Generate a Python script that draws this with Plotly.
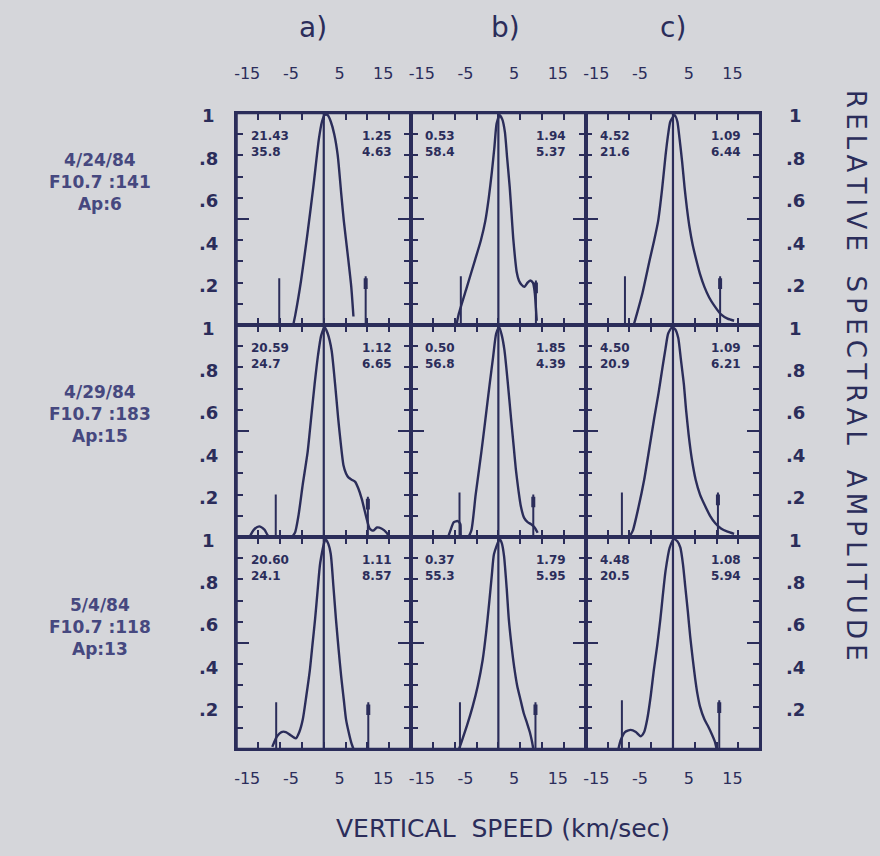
import plotly.graph_objects as go

# ---------------- data ----------------
x_tick_vals = [-15, -5, 5, 15]
x_tick_text = ['-15\u2007', '-5\u2007', '5', '15']
y_tick_vals = [0.2, 0.4, 0.6, 0.8, 1.0]
y_tick_text = ['.2', '.4', '.6', '.8', '1']
col_labels = ['a)', 'b)', 'c)']
row_labels = [
    ['4/24/84', 'F10.7 :141', 'Ap:6'],
    ['4/29/84', 'F10.7 :183', 'Ap:15'],
    ['5/4/84', 'F10.7 :118', 'Ap:13'],
]
x_title = 'VERTICAL  SPEED (km/sec)'
y_title = 'RELATIVE SPECTRAL AMPLITUDE'

# spectra (relative amplitude vs vertical speed km/s), row-major: r1a..r3c
r1a_x = [-7.0, -6.5, -5.2, -3.8, -2.4, -1.1, -0.4, 0.2, 0.9, 1.6, 2.4, 3.2, 4.0, 4.6, 5.5, 6.3, 6.8]
r1a_y = [0.0, 0.05, 0.21, 0.42, 0.65, 0.88, 0.96, 0.99, 0.99, 0.96, 0.90, 0.80, 0.62, 0.49, 0.33, 0.18, 0.04]
r1b_x = [-9.6, -9.1, -7.2, -5.3, -4.0, -3.0, -2.2, -1.5, -0.9, -0.4, 0.3, 0.9, 1.5, 2.0, 2.6, 3.0, 3.4, 3.8, 4.2, 4.7, 5.3, 6.0, 6.7, 7.3, 7.9, 8.3, 8.6, 8.8]
r1b_y = [0.0, 0.05, 0.18, 0.31, 0.40, 0.49, 0.60, 0.72, 0.84, 0.95, 0.99, 0.97, 0.91, 0.79, 0.65, 0.53, 0.41, 0.32, 0.25, 0.21, 0.19, 0.18, 0.20, 0.21, 0.20, 0.16, 0.08, 0.02]
r1c_x = [-9.0, -8.3, -7.0, -5.3, -4.3, -3.4, -2.5, -1.7, -1.1, -0.6, 0.4, 1.0, 1.5, 2.1, 2.65, 3.2, 3.8, 4.5, 5.3, 6.2, 7.2, 8.3, 9.5, 11.0, 12.5, 14.0]
r1c_y = [0.0, 0.05, 0.15, 0.31, 0.40, 0.49, 0.64, 0.80, 0.90, 0.96, 0.99, 0.96, 0.88, 0.77, 0.65, 0.55, 0.46, 0.38, 0.31, 0.24, 0.18, 0.13, 0.09, 0.05, 0.03, 0.02]
r2a_x = [-17.0, -16.0, -14.8, -13.6, -12.5, -7.5, -6.6, -5.8, -4.8, -3.7, -2.9, -2.1, -1.3, -0.6, 0.2, 0.9, 1.8, 2.6, 3.3, 3.9, 4.5, 5.1, 5.7, 6.4, 7.2, 7.9, 8.7, 9.3, 9.9, 10.5, 11.3, 12.2, 13.2, 14.4, 15.0]
r2a_y = [0.0, 0.035, 0.05, 0.035, 0.0, 0.0, 0.02, 0.10, 0.25, 0.40, 0.56, 0.72, 0.86, 0.95, 0.99, 0.96, 0.88, 0.72, 0.56, 0.44, 0.34, 0.30, 0.28, 0.27, 0.26, 0.23, 0.18, 0.13, 0.08, 0.04, 0.03, 0.045, 0.04, 0.02, 0.0]
r2b_x = [-11.5, -11.0, -10.2, -9.3, -8.7, -8.5, -7.0, -6.2, -5.2, -3.9, -3.0, -2.0, -1.2, -0.5, 0.2, 0.8, 1.4, 2.1, 2.9, 3.5, 4.0, 4.6, 5.15, 5.9, 6.7, 7.5, 8.3, 9.0]
r2b_y = [0.0, 0.03, 0.07, 0.075, 0.06, 0.0, 0.0, 0.03, 0.20, 0.40, 0.55, 0.72, 0.85, 0.96, 0.99, 0.95, 0.88, 0.74, 0.56, 0.43, 0.32, 0.22, 0.145, 0.09, 0.07, 0.06, 0.045, 0.02]
r2c_x = [-10.0, -9.2, -7.9, -6.6, -5.4, -4.3, -3.3, -2.4, -1.7, -1.1, -0.2, 0.5, 1.2, 1.8, 2.5, 3.0, 3.6, 4.3, 5.2, 6.2, 7.4, 8.5, 9.7, 11.0, 12.5, 14.0]
r2c_y = [0.0, 0.03, 0.14, 0.27, 0.42, 0.56, 0.68, 0.80, 0.89, 0.96, 0.99, 0.98, 0.94, 0.84, 0.72, 0.60, 0.48, 0.37, 0.27, 0.20, 0.145, 0.10, 0.065, 0.04, 0.025, 0.015]
r3a_x = [-11.8, -10.7, -9.7, -8.7, -7.6, -6.4, -5.6, -4.8, -4.0, -3.2, -2.6, -2.0, -1.4, -0.8, 0.4, 1.0, 1.6, 2.2, 2.8, 3.4, 4.0, 4.6, 5.1, 5.7, 6.3, 6.8]
r3a_y = [0.01, 0.06, 0.08, 0.08, 0.065, 0.05, 0.08, 0.14, 0.25, 0.37, 0.49, 0.61, 0.75, 0.88, 0.99, 0.97, 0.92, 0.77, 0.61, 0.47, 0.34, 0.23, 0.14, 0.08, 0.03, 0.0]
r3b_x = [-9.0, -8.5, -7.2, -5.9, -4.7, -3.6, -2.8, -2.1, -1.5, -1.0, 0.3, 0.8, 1.3, 1.9, 2.4, 3.0, 3.6, 4.3, 5.1, 5.8, 6.6, 7.2, 7.7, 8.0]
r3b_y = [0.0, 0.03, 0.11, 0.20, 0.30, 0.42, 0.55, 0.69, 0.82, 0.92, 0.99, 0.97, 0.91, 0.76, 0.61, 0.49, 0.39, 0.30, 0.23, 0.17, 0.12, 0.08, 0.035, 0.0]
r3c_x = [-12.5, -12.0, -11.0, -9.7, -8.5, -7.4, -6.6, -5.9, -5.1, -4.4, -3.6, -2.9, -2.3, -1.7, -0.75, 0.2, 1.0, 1.7, 2.3, 2.8, 3.4, 3.95, 4.5, 5.1, 5.6, 6.2, 7.2, 8.1, 8.9, 9.6, 10.0]
r3c_y = [0.0, 0.04, 0.08, 0.09, 0.08, 0.06, 0.08, 0.14, 0.25, 0.37, 0.49, 0.61, 0.73, 0.84, 0.95, 0.99, 0.98, 0.95, 0.87, 0.77, 0.65, 0.53, 0.43, 0.33, 0.26, 0.20, 0.14, 0.105, 0.07, 0.035, 0.0]

curves_x = [r1a_x, r1b_x, r1c_x, r2a_x, r2b_x, r2c_x, r3a_x, r3b_x, r3c_x]
curves_y = [r1a_y, r1b_y, r1c_y, r2a_y, r2b_y, r2c_y, r3a_y, r3b_y, r3c_y]

# vertical reference markers (left/right position, height)
marker_left_x = [-10.2, -8.6, -11.0, -11.0, -8.9, -11.7, -10.9, -8.8, -11.7]
marker_left_h = [0.22, 0.23, 0.23, 0.20, 0.21, 0.21, 0.22, 0.22, 0.23]
marker_right_x = [9.6, 8.6, 10.8, 10.1, 8.0, 10.3, 10.2, 8.5, 10.6]
marker_right_h = [0.23, 0.21, 0.23, 0.19, 0.20, 0.21, 0.22, 0.22, 0.23]
zero_line_x = [0, 0]
zero_line_y = [0, 1]

# numbers printed in each panel
text_left_1 = ['21.43', '0.53', '4.52', '20.59', '0.50', '4.50', '20.60', '0.37', '4.48']
text_left_2 = ['35.8', '58.4', '21.6', '24.7', '56.8', '20.9', '24.1', '55.3', '20.5']
text_right_1 = ['1.25', '1.94', '1.09', '1.12', '1.85', '1.09', '1.11', '1.79', '1.08']
text_right_2 = ['4.63', '5.37', '6.44', '6.65', '4.39', '6.21', '8.57', '5.95', '5.94']
text_rows_y = [0.89, 0.815]

# ---------------- style ----------------
BG = '#d5d6da'
INK = '#2b2d5a'
LABEL_INK = '#46487f'
FONT = 'DejaVu Sans'
W, H = 880, 856
left_px, panel_w = 235, 175
top_px, panel_h = 113, 212
AXW = 1.6


def ax_ids(n):
    s = '' if n == 1 else str(n)
    return 'x' + s, 'y' + s, 'xaxis' + s, 'yaxis' + s


def spaced(text, gap='\u2009', word_gap='\u00a0\u00a0\u00a0'):
    return word_gap.join(gap.join(w) for w in text.split())


fig = go.Figure()
layout = dict(
    width=W, height=H, margin=dict(l=0, r=0, t=0, b=0),
    paper_bgcolor=BG, plot_bgcolor=BG, showlegend=False,
    font=dict(family=FONT, color=INK),
)
annotations = []

for k in range(9):
    r, c = divmod(k, 3)
    xa, ya, xkey, ykey = ax_ids(k + 1)
    x0 = (left_px + c * panel_w) / W
    x1 = (left_px + (c + 1) * panel_w) / W
    y1 = 1 - (top_px + r * panel_h) / H
    y0 = 1 - (top_px + (r + 1) * panel_h) / H
    layout[xkey] = dict(
        domain=[x0, x1], anchor=ya, range=[-20, 20], fixedrange=True,
        showline=True, linewidth=AXW, linecolor=INK, mirror='ticks',
        ticks='inside', tickvals=x_tick_vals, ticktext=x_tick_text,
        ticklen=7, tickwidth=2, tickcolor=INK,
        minor=dict(dtick=5, tick0=0, ticks='inside', ticklen=7, tickwidth=2, tickcolor=INK),
        showgrid=False, zeroline=False,
        showticklabels=(r != 1), side='top' if r == 0 else 'bottom',
        ticklabelstandoff=26 if r == 0 else 14, ticklabelshift=-6,
        tickfont=dict(size=16, color=INK, family=FONT),
    )
    layout[ykey] = dict(
        domain=[y0, y1], anchor=xa, range=[0, 1], fixedrange=True,
        showline=True, linewidth=AXW, linecolor=INK, mirror='ticks',
        ticks='inside', tickvals=[0.5], ticklen=13, tickwidth=2, tickcolor=INK,
        minor=dict(dtick=0.1, tick0=0, ticks='inside', ticklen=7, tickwidth=2, tickcolor=INK),
        showgrid=False, zeroline=False, showticklabels=False,
    )
    # center line
    fig.add_trace(go.Scatter(x=zero_line_x, y=zero_line_y, xaxis=xa, yaxis=ya, mode='lines',
                             line=dict(color=INK, width=2.2), hoverinfo='skip'))
    # spectrum
    fig.add_trace(go.Scatter(x=curves_x[k], y=curves_y[k], xaxis=xa, yaxis=ya, mode='lines',
                             line=dict(color=INK, width=2.4, shape='spline', smoothing=0.6),
                             hoverinfo='skip'))
    # markers
    fig.add_trace(go.Scatter(x=[marker_left_x[k]] * 2, y=[0, marker_left_h[k]], xaxis=xa, yaxis=ya,
                             mode='lines', line=dict(color=INK, width=2), hoverinfo='skip'))
    fig.add_trace(go.Scatter(x=[marker_right_x[k]] * 2, y=[0, marker_right_h[k]], xaxis=xa, yaxis=ya,
                             mode='lines', line=dict(color=INK, width=2), hoverinfo='skip'))
    fig.add_trace(go.Scatter(x=[marker_right_x[k]] * 2, y=[marker_right_h[k] - 0.06, marker_right_h[k] - 0.01],
                             xaxis=xa, yaxis=ya, mode='lines', line=dict(color=INK, width=4),
                             hoverinfo='skip'))
    # numbers
    dom = xa + ' domain'
    for t, yy in zip([text_left_1[k], text_left_2[k]], text_rows_y):
        annotations.append(dict(text=t, xref=dom, yref=ya, x=0.07, y=yy, xanchor='left',
                                yanchor='middle', showarrow=False,
                                font=dict(size=12, color=INK, family=FONT, weight='bold')))
    for t, yy in zip([text_right_1[k], text_right_2[k]], text_rows_y):
        annotations.append(dict(text=t, xref=dom, yref=ya, x=0.9, y=yy, xanchor='right',
                                yanchor='middle', showarrow=False,
                                font=dict(size=12, color=INK, family=FONT, weight='bold')))

# outer frame of the panel grid
layout['shapes'] = [dict(type='rect', xref='paper', yref='paper',
                         x0=left_px / W, x1=(left_px + 3 * panel_w) / W,
                         y0=1 - (top_px + 3 * panel_h) / H, y1=1 - top_px / H,
                         line=dict(color=INK, width=2.6), layer='above')]

# y tick labels on outer sides
for r in range(3):
    ya_left = ax_ids(r * 3 + 1)[1]
    ya_right = ax_ids(r * 3 + 3)[1]
    for v, t in zip(y_tick_vals, y_tick_text):
        annotations.append(dict(text=t, xref='paper', yref=ya_left, x=207 / W, y=v, yshift=-3,
                                xanchor='center', yanchor='middle', showarrow=False,
                                font=dict(size=18, color=INK, family=FONT, weight='bold')))
        annotations.append(dict(text=t, xref='paper', yref=ya_right, x=795 / W, y=v, yshift=-3,
                                xanchor='center', yanchor='middle', showarrow=False,
                                font=dict(size=18, color=INK, family=FONT, weight='bold')))

# column labels
for lab, px in zip(col_labels, [312, 505, 673]):
    annotations.append(dict(text=lab, xref='paper', yref='paper', x=px / W, y=1 - 28 / H,
                            xanchor='center', yanchor='middle', showarrow=False,
                            font=dict(size=28, color=INK, family=FONT)))

# row labels
for lines, py in zip(row_labels, [182, 414, 627]):
    annotations.append(dict(text='<br>'.join(lines), xref='paper', yref='paper', x=98 / W,
                            y=1 - py / H, xanchor='center', yanchor='middle', showarrow=False,
                            align='center',
                            font=dict(size=17, color=LABEL_INK, family=FONT, weight='bold')))

# axis titles
annotations.append(dict(text=x_title.replace('  ', '\u00a0\u00a0'), xref='paper', yref='paper',
                        x=502 / W, y=1 - 828 / H, xanchor='center', yanchor='middle',
                        showarrow=False, font=dict(size=25, color=INK, family=FONT)))
annotations.append(dict(text=spaced(y_title), xref='paper',
                        yref='paper', x=856 / W, y=1 - 375 / H, xanchor='center',
                        yanchor='middle', textangle=90, showarrow=False,
                        font=dict(size=26, color=INK, family=FONT)))

layout['annotations'] = annotations
fig.update_layout(**layout)
fig.write_html('out.html', config={'displayModeBar': False},
               post_script="document.body.style.margin='0';document.body.style.overflow='hidden';")
